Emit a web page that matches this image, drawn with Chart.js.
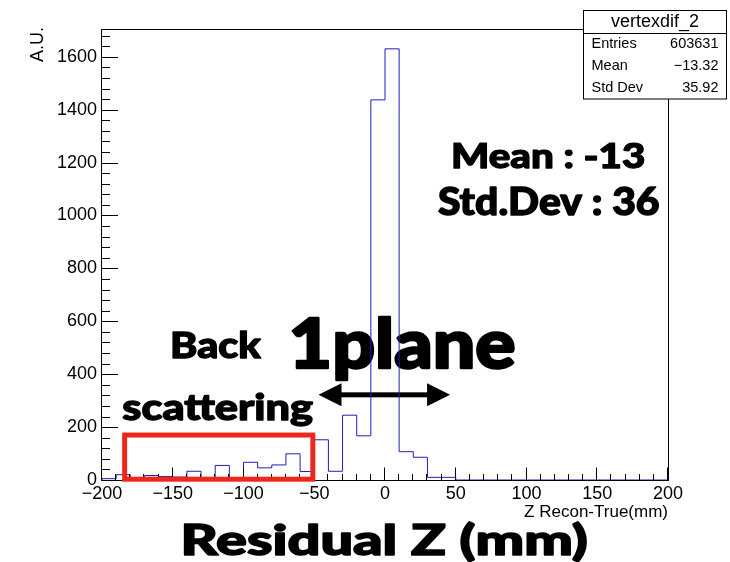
<!DOCTYPE html>
<html>
<head>
<meta charset="utf-8">
<script src="https://cdn.jsdelivr.net/npm/chart.js@4/dist/chart.umd.min.js"></script>
<style>
  html, body { margin: 0; padding: 0; background: #ffffff; }
  #wrap { width: 730px; height: 562px; }
</style>
</head>
<body>
<div id="wrap"><canvas id="c" width="730" height="562"></canvas></div>
<script>
// Histogram of the reconstructed-minus-true vertex Z (10 mm bins)
const binEdges = [
  -200, -190, -180, -170, -160, -150, -140, -130, -120, -110,
  -100, -90, -80, -70, -60, -50, -40, -30, -20, -10,
  0, 10, 20, 30, 40, 50, 60, 70, 80, 90,
  100, 110, 120, 130, 140, 150, 160, 170, 180, 190, 200
];
const counts = [
  5, 20, 8, 17, 13, 11, 33, 8, 55, 8,
  67, 46, 57, 99, 32, 152, 33, 245, 167, 1437,
  1630, 107, 86, 10, 10, 0, 0, 0, 0, 0,
  0, 0, 0, 0, 0, 0, 0, 0, 0, 0
];

const xTickValues = [-200, -150, -100, -50, 0, 50, 100, 150, 200];
const xTickLabels = ['\u2212200', '\u2212150', '\u2212100', '\u221250', '0', '50', '100', '150', '200'];
const yTickValues = [0, 200, 400, 600, 800, 1000, 1200, 1400, 1600];
const yTickLabels = ['0', '200', '400', '600', '800', '1000', '1200', '1400', '1600'];

const xTitle = 'Z Recon-True(mm)';
const yTitle = 'A.U.';

const statsTitle = 'vertexdif_2';
const statsNames = ['Entries', 'Mean', 'Std Dev'];
const statsValues = ['603631', '\u221213.32', '35.92'];

// Region highlighted as back-scattering: [xFrom, xTo] mm, [yFrom, yTo] counts
const backRegionX = [-184, -51];
const backRegionY = [3, 170];
// Span of the "1 plane" arrow in mm, at a height in counts
const planeSpanX = [-47, 46];
const planeArrowY = 322;

const AX_FONT = '"Liberation Sans", Arial, Helvetica, sans-serif';
const ANN_FONT = 'Lato, "Open Sans", "DejaVu Sans", sans-serif';
const HIST_COLOR = 'rgb(30,30,190)';

// Step outline: a point at each bin's lower edge, closed back to zero at the upper edge
const histPoints = [{ x: binEdges[0], y: 0 }];
counts.forEach((v, i) => histPoints.push({ x: binEdges[i], y: v }));
histPoints.push({ x: binEdges[binEdges.length - 1], y: 0 });

// Heavy annotation text, sized to a cap height and stretched to a given ink width
function fittedText(ctx, str, left, right, baseline, capH) {
  ctx.font = `900 100px ${ANN_FONT}`;
  const capRef = ctx.measureText('H').actualBoundingBoxAscent;
  const size = 100 * capH / capRef;
  ctx.font = `900 ${size}px ${ANN_FONT}`;
  const m = ctx.measureText(str);
  const weight = capH * 0.05;
  const ink = m.actualBoundingBoxLeft + m.actualBoundingBoxRight;
  const sx = (right - left - weight) / ink;
  ctx.save();
  ctx.translate(left + weight / 2, baseline);
  ctx.scale(sx, 1);
  ctx.textAlign = 'left';
  ctx.textBaseline = 'alphabetic';
  ctx.fillStyle = '#000';
  ctx.strokeStyle = '#000';
  ctx.lineJoin = 'round';
  ctx.lineWidth = weight;
  ctx.fillText(str, m.actualBoundingBoxLeft, 0);
  ctx.strokeText(str, m.actualBoundingBoxLeft, 0);
  ctx.restore();
}

const annotationsUnder = {
  id: 'annotationsUnder',
  beforeDatasetsDraw(chart) {
    const ctx = chart.ctx;
    const xs = chart.scales.x, ys = chart.scales.y;
    ctx.save();
    fittedText(ctx, 'Mean : -13', 452.7, 645, 168, 25);
    fittedText(ctx, 'Std.Dev : 36', 437.3, 660, 215, 28);
    fittedText(ctx, 'Back', 171.7, 261.7, 358.3, 26.5);
    fittedText(ctx, '1plane', 291.7, 515, 368.3, 50);
    fittedText(ctx, 'scattering', 121.7, 313.3, 420, 26.5);
    fittedText(ctx, 'Residual Z (mm)', 184, 588, 555, 30);

    // double-headed arrow
    const x0 = xs.getPixelForValue(planeSpanX[0]);
    const x1 = xs.getPixelForValue(planeSpanX[1]);
    const y = ys.getPixelForValue(planeArrowY);
    const head = 23, half = 11.5;
    ctx.fillStyle = '#000';
    ctx.fillRect(x0 + head - 2, y - 2.5, (x1 - x0) - 2 * head + 4, 5);
    ctx.beginPath();
    ctx.moveTo(x0, y); ctx.lineTo(x0 + head, y - half); ctx.lineTo(x0 + head, y + half); ctx.closePath();
    ctx.fill();
    ctx.beginPath();
    ctx.moveTo(x1, y); ctx.lineTo(x1 - head, y - half); ctx.lineTo(x1 - head, y + half); ctx.closePath();
    ctx.fill();
    ctx.restore();
  }
};

const frameAndDecor = {
  id: 'frameAndDecor',
  afterDraw(chart) {
    const ctx = chart.ctx;
    const a = chart.chartArea;
    const xs = chart.scales.x, ys = chart.scales.y;
    const L = a.left - 0.5, R = a.right + 0.5, T = a.top + 0.5, B = a.bottom + 0.5;
    ctx.save();
    ctx.strokeStyle = '#000';
    ctx.lineWidth = 1;
    ctx.strokeRect(L, T, R - L, B - T);

    // inward tick marks
    ctx.beginPath();
    for (let v = xs.min; v <= xs.max + 1e-9; v += 10) {
      const px = Math.round(xs.getPixelForValue(v)) - 0.5;
      const len = (Math.abs(v % 50) < 1e-9) ? 13 : 6.5;
      ctx.moveTo(px, B); ctx.lineTo(px, B - len);
    }
    for (let v = ys.min; v <= ys.max + 1e-9; v += 40) {
      const py = Math.round(ys.getPixelForValue(v)) + 0.5;
      const len = (Math.abs(v % 200) < 1e-9) ? 16.5 : 8.5;
      ctx.moveTo(L, py); ctx.lineTo(L + len, py);
    }
    ctx.stroke();

    // axis titles
    ctx.fillStyle = '#000';
    ctx.font = `17px ${AX_FONT}`;
    ctx.textAlign = 'right';
    ctx.textBaseline = 'alphabetic';
    ctx.fillText(xTitle, a.right, 517);
    ctx.save();
    ctx.translate(43, 27);
    ctx.rotate(-Math.PI / 2);
    ctx.font = `18px ${AX_FONT}`;
    ctx.textAlign = 'right';
    ctx.fillText(yTitle, 0, 0);
    ctx.restore();

    // statistics box
    const bx = 583.5, by = 10.5, bw = 143, bh = 88.5;
    ctx.fillStyle = '#fff';
    ctx.fillRect(bx, by, bw, bh);
    ctx.strokeRect(bx, by, bw, bh);
    ctx.beginPath();
    ctx.moveTo(bx, 33.5); ctx.lineTo(bx + bw, 33.5);
    ctx.stroke();
    ctx.fillStyle = '#000';
    ctx.font = `18px ${AX_FONT}`;
    ctx.textAlign = 'center';
    ctx.textBaseline = 'middle';
    ctx.fillText(statsTitle, bx + bw / 2, 22);
    ctx.font = `14.5px ${AX_FONT}`;
    const rowH = (by + bh - 33.5) / statsNames.length;
    statsNames.forEach((name, i) => {
      const cy = 33.5 + rowH * (i + 0.5);
      ctx.textAlign = 'left';
      ctx.fillText(name, 591.5, cy);
      ctx.textAlign = 'right';
      ctx.fillText(statsValues[i], 718.5, cy);
    });

    // highlighted back-scattering region
    ctx.strokeStyle = 'rgb(236,40,28)';
    ctx.lineWidth = 5;
    const rx0 = xs.getPixelForValue(backRegionX[0]);
    const rx1 = xs.getPixelForValue(backRegionX[1]);
    const ry0 = ys.getPixelForValue(backRegionY[1]);
    const ry1 = ys.getPixelForValue(backRegionY[0]);
    ctx.strokeRect(rx0, ry0, rx1 - rx0, ry1 - ry0);
    ctx.restore();
  }
};

new Chart(document.getElementById('c'), {
  type: 'line',
  data: {
    datasets: [{
      data: histPoints,
      stepped: 'before',
      borderColor: HIST_COLOR,
      borderWidth: 1,
      pointRadius: 0,
      fill: false
    }]
  },
  options: {
    responsive: false,
    animation: false,
    events: [],
    layout: { padding: { left: 0, right: 62, top: 29, bottom: 52 } },
    plugins: { legend: { display: false }, tooltip: { enabled: false } },
    scales: {
      x: {
        type: 'linear',
        min: -200, max: 200,
        grid: { display: false, drawTicks: false },
        border: { display: false },
        afterBuildTicks: s => { s.ticks = xTickValues.map(v => ({ value: v })); },
        afterFit: s => { s.height = 30; },
        ticks: {
          autoSkip: false, maxRotation: 0, padding: 3,
          color: '#000',
          font: { family: AX_FONT, size: 18 },
          callback: (v, i) => xTickLabels[i]
        }
      },
      y: {
        type: 'linear',
        min: 0, max: 1705,
        grid: { display: false, drawTicks: false },
        border: { display: false },
        afterBuildTicks: s => { s.ticks = yTickValues.map(v => ({ value: v })); },
        afterFit: s => { s.width = 102; },
        ticks: {
          autoSkip: false, padding: 5,
          color: '#000',
          font: { family: AX_FONT, size: 18 },
          callback: (v, i) => yTickLabels[i]
        }
      }
    }
  },
  plugins: [annotationsUnder, frameAndDecor]
});
</script>
</body>
</html>
